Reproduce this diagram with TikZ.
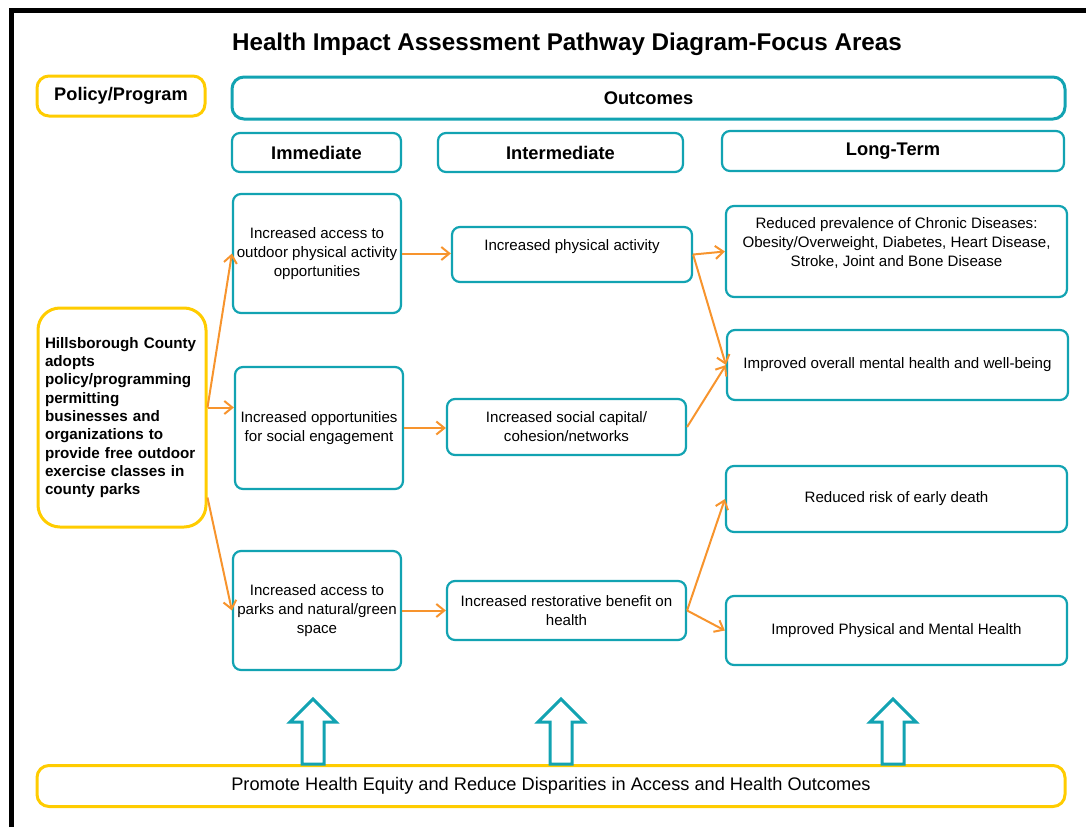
\documentclass[tikz,border=0pt]{standalone}
\usepackage{fontspec}
\setmainfont{Liberation Sans}
\usetikzlibrary{arrows.meta,positioning,calc}

\definecolor{hiteal}{RGB}{18,163,178}
\definecolor{hiyellow}{RGB}{255,204,0}
\definecolor{hiorange}{RGB}{247,148,45}

\tikzset{
  box/.style={draw=hiteal, line width=2.2pt, rounded corners=8pt, align=center, inner sep=2pt, font=\fontsize{15.1}{19}\selectfont},
  head/.style={box, font=\bfseries\fontsize{18.3}{20}\selectfont},
  ybox/.style={draw=hiyellow, line width=3pt, rounded corners=12pt, align=center, inner sep=3pt},
  flow/.style={draw=hiorange, line width=2pt, -{Straight Barb[length=8pt,width=13pt]}},
  hollow/.style={draw=hiteal, line width=3pt, fill=white, line join=miter}
}

\begin{document}
\begin{tikzpicture}[x=1pt,y=-1pt]
\useasboundingbox (0,0) rectangle (1086,827);
\draw[line width=5pt] (11.5,827) -- (11.5,10.5) -- (1086,10.5);

\node[font=\bfseries\fontsize{24.2}{26}\selectfont] (title) at (567,44) {Health Impact Assessment Pathway Diagram-Focus Areas};

% headers
\node[ybox, minimum width=168pt, minimum height=40pt, font=\bfseries\fontsize{18.2}{20}\selectfont] (policy) at (121,96) {Policy/Program};
\node[head, line width=3pt, rounded corners=12pt, minimum width=833pt, minimum height=42pt] (outcomes) at (648.5,98) {Outcomes};
\node[head, minimum width=169pt, minimum height=39pt] (immediate) at (316.5,152.5) {Immediate};
\node[head, minimum width=245pt, minimum height=39pt] (intermediate) at (560.5,152.5) {Intermediate};
\node[head, minimum width=342pt, minimum height=40pt] (longterm) at (893,151) {Long-Term};

% policy
\node[ybox, rounded corners=22pt, minimum width=168pt, minimum height=219pt, text width=154pt, align=left,
  font=\bfseries\fontsize{15.2}{18.3}\selectfont] (adopt) at (122,417.5)
  {Hillsborough County\\adopts\\policy/programming\\permitting\\businesses and\\organizations to\\provide free outdoor\\exercise classes in\\county parks};

% immediate
\node[box, minimum width=168pt, minimum height=119pt] (imm1) at (317,253.5) {Increased access to\\outdoor physical activity\\opportunities};
\node[box, minimum width=168pt, minimum height=122pt] (imm2) at (319,428) {Increased opportunities\\for social engagement};
\node[box, minimum width=168pt, minimum height=119pt] (imm3) at (317,610.5) {Increased access to\\parks and natural/green\\space};

% intermediate
\node[box, minimum width=240pt, minimum height=55pt] (int1) at (572,254.5) {Increased physical activity\\\mbox{}};
\node[box, minimum width=239pt, minimum height=56pt] (int2) at (566.5,427) {Increased social capital/\\cohesion/networks};
\node[box, minimum width=239pt, minimum height=59pt] (int3) at (566.5,610.5) {Increased restorative benefit on\\health};

% long-term
\node[box, minimum width=341pt, minimum height=91pt] (long1) at (896.5,251.5) {Reduced prevalence of Chronic Diseases:\\Obesity/Overweight, Diabetes, Heart Disease,\\Stroke, Joint and Bone Disease\\\mbox{}};
\node[box, minimum width=341pt, minimum height=70pt] (long2) at (897.5,365) {Improved overall mental health and well-being};
\node[box, minimum width=341pt, minimum height=66pt] (long3) at (896.5,499) {Reduced risk of early death};
\node[box, minimum width=341pt, minimum height=69pt] (long4) at (896.5,630.5) {Improved Physical and Mental Health};

% equity
\node[ybox, minimum width=1028pt, minimum height=41pt, font=\fontsize{18.2}{20}\selectfont] (equity) at (551,786) {Promote Health Equity and Reduce Disparities in Access and Health Outcomes};

\draw[hollow] (302,764) -- ++(0,-42) -- ++(-12,0) -- ++(23,-23) -- ++(23,23) -- ++(-12,0) -- ++(0,42) -- cycle;
\draw[hollow] (550,764) -- ++(0,-42) -- ++(-12,0) -- ++(23,-23) -- ++(23,23) -- ++(-12,0) -- ++(0,42) -- cycle;
\draw[hollow] (882,764) -- ++(0,-42) -- ++(-12,0) -- ++(23,-23) -- ++(23,23) -- ++(-12,0) -- ++(0,42) -- cycle;

% flows
\coordinate (polout) at ([yshift=10pt]adopt.east);
\draw[flow] (polout) -- (imm1.west);
\draw[flow] (polout) -- (polout -| imm2.west);
\draw[flow] ([yshift=-80pt]adopt.east) -- (imm3.west);

\draw[flow] (imm1.east) -- (imm1.east -| int1.west);
\draw[flow] (imm2.east) -- (imm2.east -| int2.west);
\draw[flow] (imm3.east) -- (imm3.east -| int3.west);

\draw[flow] (int1.east) -- (long1.west);
\draw[flow] (int1.east) -- (long2.west);
\draw[flow] (int2.east) -- (long2.west);
\draw[flow] (int3.east) -- (long3.west);
\draw[flow] (int3.east) -- (long4.west);
\end{tikzpicture}
\end{document}
